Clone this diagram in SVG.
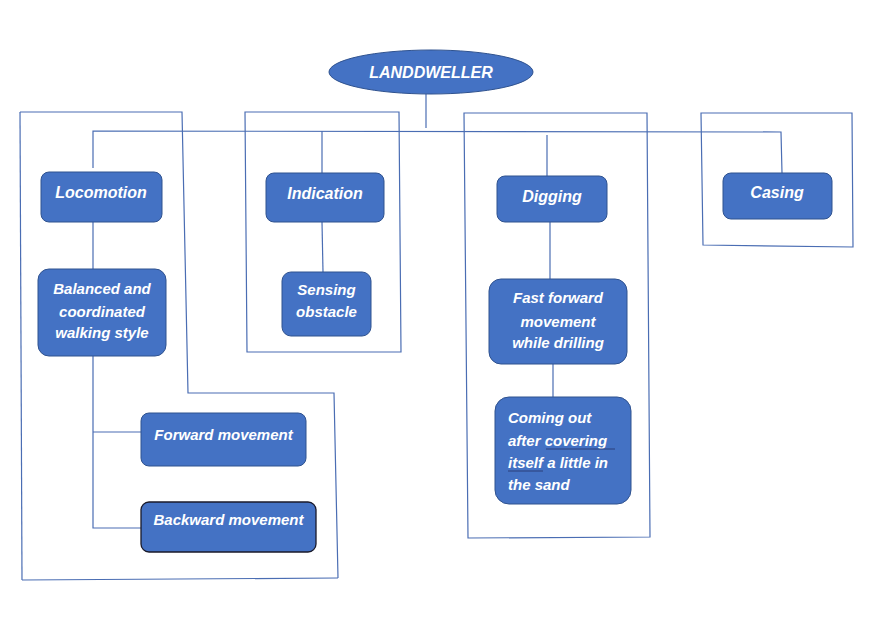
<svg xmlns="http://www.w3.org/2000/svg" width="881" height="619" viewBox="0 0 881 619">
<style>
.box{fill:#4472C4;stroke:#2F528F;stroke-width:1}
.dark{fill:#4472C4;stroke:#1a1a2a;stroke-width:1.3}
.ln{fill:none;stroke:#4a6db3;stroke-width:1.2}
.t{font-family:"Liberation Sans",Arial,sans-serif;font-weight:bold;font-style:italic;fill:#ffffff;font-size:15px}
.c{text-anchor:middle}
.big{font-size:16px}
.ul{stroke:#2b3f7a;stroke-width:1}
</style>
<rect width="881" height="619" fill="#ffffff"/>
<g id="frames" class="ln">
<polyline points="20,112 182,112 188,393 334,393 338,578"/>
<line x1="20" y1="112" x2="22" y2="580"/>
<line x1="22" y1="580" x2="338" y2="578"/>
<polygon points="245,112 399,112 401,352 247,352"/>
<polygon points="464,113 647,113 650,537 468,538"/>
<polygon points="701,113 852,113 853,247 703,245"/>
</g>
<g id="connectors" class="ln">
<line x1="426" y1="94" x2="426" y2="128"/>
<polyline points="93,168 93,131 781,132 782,173"/>
<line x1="322" y1="131" x2="322" y2="173"/>
<line x1="547" y1="135" x2="547" y2="176"/>
<line x1="93" y1="222" x2="93" y2="269"/>
<line x1="322" y1="222" x2="323" y2="272"/>
<line x1="550" y1="222" x2="550" y2="279"/>
<line x1="553" y1="364" x2="553" y2="397"/>
<polyline points="93,356 93,528 141,528"/>
<line x1="93" y1="432" x2="141" y2="432"/>
</g>
<g id="landdweller">
<ellipse class="box" cx="431" cy="72" rx="102" ry="22"/>
<text class="t c big" x="431" y="78">LANDDWELLER</text>
</g>
<g id="locomotion">
<rect class="box" x="41" y="172" width="121" height="50" rx="8"/>
<text class="t c big" x="101" y="198">Locomotion</text>
</g>
<g id="balanced">
<rect class="box" x="38" y="269" width="128" height="87" rx="11"/>
<text class="t c" x="102" y="294">Balanced and</text>
<text class="t c" x="102" y="317">coordinated</text>
<text class="t c" x="102" y="338">walking style</text>
</g>
<g id="forward">
<rect class="box" x="141" y="413" width="165" height="53" rx="8"/>
<text class="t c" x="223.5" y="440">Forward movement</text>
</g>
<g id="backward">
<rect class="dark" x="141" y="502" width="175" height="50" rx="8"/>
<text class="t c" x="228.5" y="525">Backward movement</text>
</g>
<g id="indication">
<rect class="box" x="266" y="173" width="118" height="49" rx="8"/>
<text class="t c big" x="325" y="199">Indication</text>
</g>
<g id="sensing">
<rect class="box" x="282" y="272" width="89" height="64" rx="9"/>
<text class="t c" x="326.5" y="295">Sensing</text>
<text class="t c" x="326.5" y="317">obstacle</text>
</g>
<g id="digging">
<rect class="box" x="497" y="176" width="110" height="46" rx="8"/>
<text class="t c big" x="552" y="202">Digging</text>
</g>
<g id="fastforward">
<rect class="box" x="489" y="279" width="138" height="85" rx="12"/>
<text class="t c" x="558" y="303">Fast forward</text>
<text class="t c" x="558" y="327">movement</text>
<text class="t c" x="558" y="348">while drilling</text>
</g>
<g id="comingout">
<rect class="box" x="495" y="397" width="136" height="107" rx="14"/>
<text class="t" x="508" y="423">Coming out</text>
<text class="t" x="508" y="446">after covering</text>
<text class="t" x="508" y="468">itself a little in</text>
<text class="t" x="508" y="490">the sand</text>
<line class="ul" x1="546" y1="449" x2="615" y2="449"/>
<line class="ul" x1="508" y1="471" x2="543" y2="471"/>
</g>
<g id="casing">
<rect class="box" x="723" y="173" width="109" height="46" rx="8"/>
<text class="t c big" x="777" y="198">Casing</text>
</g>
</svg>
